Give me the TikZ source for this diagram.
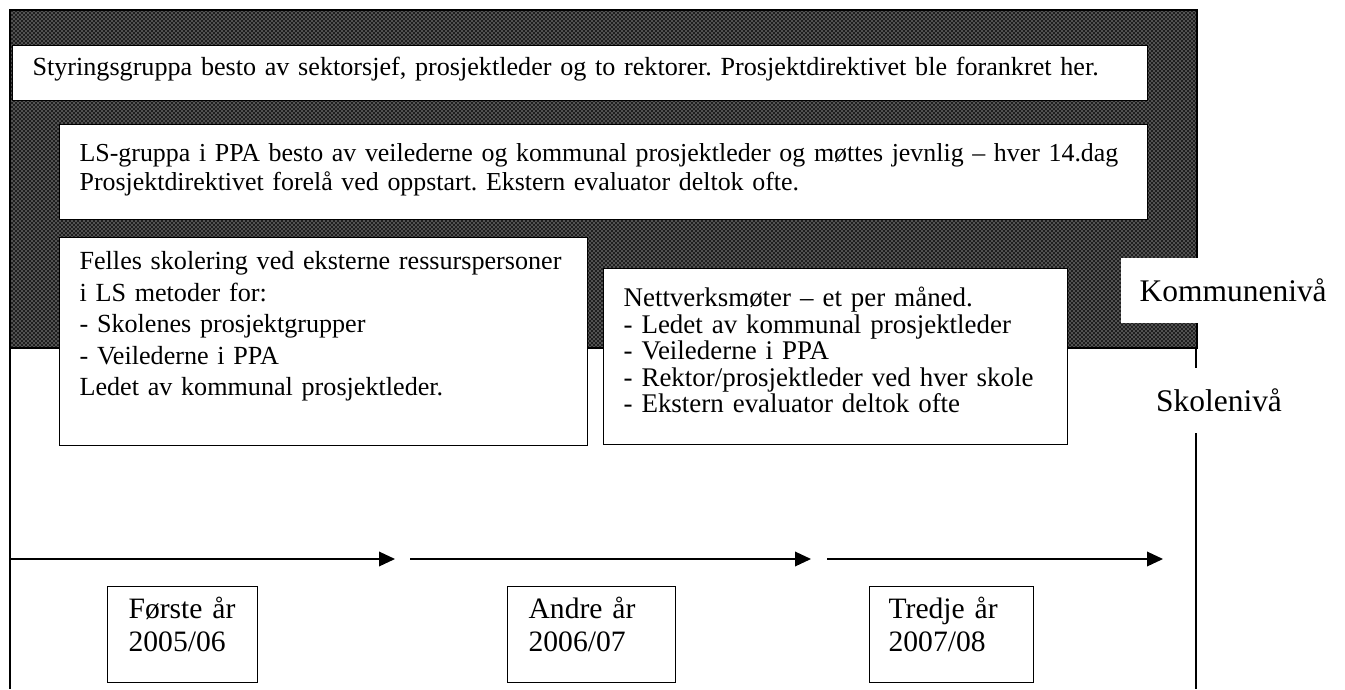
\documentclass[tikz,border=0pt]{standalone}
\usepackage{fontspec}
\setmainfont{Liberation Serif}
\usetikzlibrary{patterns,arrows.meta}
\frenchspacing
\hyphenpenalty=10000
\exhyphenpenalty=10000
\hbadness=10000
\hfuzz=50pt
\begin{document}
\begin{tikzpicture}[x=0.75pt,y=-0.75pt,line width=1pt,
  box/.style={draw=black,line width=0.9pt,fill=white,anchor=north west,align=left,inner ysep=0pt,inner xsep=15pt},
  txt/.style={font=\fontsize{19.6}{21.75}\selectfont},
  txtls/.style={font=\fontsize{19.43}{21.75}\selectfont},
  txtfel/.style={font=\fontsize{19.6}{23.6}\selectfont},
  txtnet/.style={font=\fontsize{20.2}{19.9}\selectfont},
  yr/.style={font=\fontsize{22.2}{24.75}\selectfont},
  lvl/.style={font=\fontsize{23.6}{26}\selectfont,fill=white,inner sep=0pt},
  arr/.style={-{Triangle[length=12pt,width=11pt]},line width=1pt}]
\useasboundingbox (0,0) rectangle (1345,689);
% shaded municipal level
\fill[black!88] (10,10) rectangle (1197,348);
\fill[pattern=crosshatch dots,pattern color=white] (10,10) rectangle (1197,348);
\draw (10,10) rectangle (1197,348);
% frame lines
\draw (10,348) -- (10,689);
\draw (1196,348) -- (1196,689);
% boxes
\node[box,txt,minimum width=851.25pt,minimum height=41.25pt,text width=821.25pt] (styr) at (12,45)
  {\mbox{Styringsgruppa besto av sektorsjef, prosjektleder og to rektorer. Prosjektdirektivet ble forankret her.}\rule[-10pt]{0pt}{0pt}};
\node[box,txtls,minimum width=816pt,minimum height=71.25pt,text width=786pt] (ls) at (59,124)
  {\mbox{LS-gruppa i PPA besto av veilederne og kommunal prosjektleder og møttes jevnlig – hver 14.dag}\\
   \mbox{Prosjektdirektivet forelå ved oppstart. Ekstern evaluator deltok ofte.}\rule[-8pt]{0pt}{0pt}};
\node[box,txtfel,minimum width=396pt,minimum height=156pt,text width=366pt] (felles) at (59,237)
  {\mbox{Felles skolering ved eksterne ressurspersoner}\\
   \mbox{i LS metoder for:}\\
   \mbox{- Skolenes prosjektgrupper}\\
   \mbox{- Veilederne i PPA}\\
   \mbox{Ledet av kommunal prosjektleder.}\rule[-27pt]{0pt}{0pt}};
\node[box,txtnet,minimum width=348pt,minimum height=132pt,text width=318pt] (nett) at (603,268)
  {\mbox{Nettverksmøter – et per måned.}\\
   \mbox{- Ledet av kommunal prosjektleder}\\
   \mbox{- Veilederne i PPA}\\
   \mbox{- Rektor/prosjektleder ved hver skole}\\
   \mbox{- Ekstern evaluator deltok ofte}\rule[-10pt]{0pt}{0pt}};
% level labels
\node[lvl,anchor=north west,minimum width=168.75pt,minimum height=48.75pt] (komm) at (1120,257) {Kommunenivå};
\node[lvl,minimum height=48.75pt,inner xsep=2pt] (skole) at (1219,400) {Skolenivå};
% timeline
\coordinate (a1s) at (10,559);
\coordinate (a1e) at (395,559);
\coordinate (a2s) at (410,559);
\coordinate (a2e) at (811,559);
\coordinate (a3s) at (827,559);
\coordinate (a3e) at (1163,559);
\draw[arr] (a1s) -- (a1e);
\draw[arr] (a2s) -- (a2e);
\draw[arr] (a3s) -- (a3e);
% year boxes
\node[box,yr,minimum width=112.5pt,minimum height=72pt,inner xsep=15.75pt,text width=81pt] (yr1) at (107,586)
  {\mbox{Første år}\\2005/06\rule[-16pt]{0pt}{0pt}};
\node[box,yr,minimum width=126pt,minimum height=72pt,inner xsep=15.75pt,text width=94.5pt] (yr2) at (507,586)
  {\mbox{Andre år}\\2006/07\rule[-16pt]{0pt}{0pt}};
\node[box,yr,minimum width=123pt,minimum height=72pt,inner xsep=14.25pt,text width=94.5pt] (yr3) at (869,586)
  {\mbox{Tredje år}\\2007/08\rule[-16pt]{0pt}{0pt}};
\end{tikzpicture}
\end{document}
